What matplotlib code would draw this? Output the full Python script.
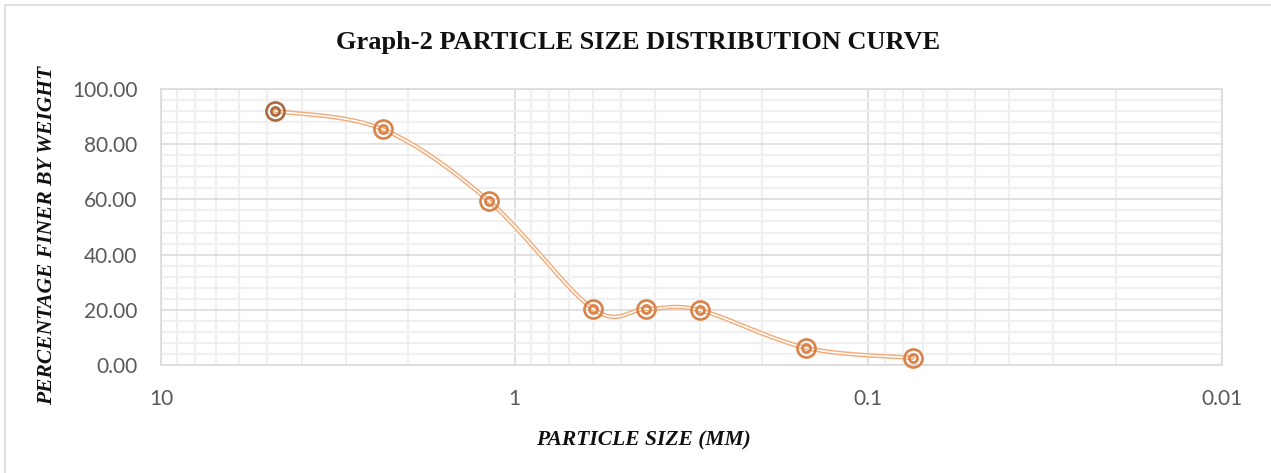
import numpy as np
import matplotlib
matplotlib.use("Agg")
import matplotlib.pyplot as plt
from matplotlib.ticker import FixedLocator, NullFormatter, FixedFormatter
from matplotlib.patches import Rectangle

# ---- data ----
particle_size = [4.75, 2.36, 1.18, 0.6, 0.425, 0.3, 0.15, 0.075]
percent_finer = [92.0, 85.4, 59.3, 20.3, 20.3, 19.9, 6.2, 2.6]
x_tick_values = [10, 1, 0.1, 0.01]
x_tick_labels = ["10", "1", "0.1", "0.01"]
y_tick_values = [0, 20, 40, 60, 80, 100]
title = "Graph-2 PARTICLE SIZE DISTRIBUTION CURVE"
xlabel = "PARTICLE SIZE (MM)"
ylabel = "PERCENTAGE FINER BY WEIGHT"

W, H, DPI = 1271, 473, 100
fig = plt.figure(figsize=(W / DPI, H / DPI), dpi=DPI)
fig.patch.set_facecolor("white")

# outer border of chart area
fig.patches.append(Rectangle((5 / W, -0.1), 1.2, (H - 5) / H + 0.1, transform=fig.transFigure,
                             fill=False, edgecolor="#D9D9D9", linewidth=1.2))

left, right, top, bottom = 161, 1222, 89, 365
ax = fig.add_axes([left / W, 1 - bottom / H, (right - left) / W, (bottom - top) / H])
ax.set_xscale("log")
ax.set_xlim(10, 0.01)
ax.set_ylim(0, 100)

# grid
minor_x = [m * 10.0 ** e for e in (-2, -1, 0) for m in range(2, 10)]
ax.xaxis.set_major_locator(FixedLocator(x_tick_values))
ax.xaxis.set_minor_locator(FixedLocator(minor_x))
ax.xaxis.set_major_formatter(FixedFormatter(x_tick_labels))
ax.xaxis.set_minor_formatter(NullFormatter())
ax.yaxis.set_major_locator(FixedLocator(y_tick_values))
ax.yaxis.set_minor_locator(FixedLocator([v for v in range(0, 101, 4) if v % 20]))
ax.yaxis.set_major_formatter(FixedFormatter([f"{v:.2f}" for v in y_tick_values]))
ax.grid(which="major", color="#D9D9D9", linewidth=1.1)
ax.grid(which="minor", color="#F0F0F0", linewidth=1.6)
ax.set_axisbelow(True)
for s in ax.spines.values():
    s.set_color("#D9D9D9")
    s.set_linewidth(1.1)
ax.tick_params(which="both", length=0)
ax.tick_params(axis="y", pad=17, labelsize=15, labelcolor="#595959")
ax.tick_params(axis="x", pad=17, labelsize=15, labelcolor="#595959")
for lab in ax.get_xticklabels() + ax.get_yticklabels():
    lab.set_family("Lato")

# smooth curve (Bezier in display space, like Excel smoothing)
pts = ax.transData.transform(np.column_stack([particle_size, percent_finer]))
n = len(pts)
curve = []
for i in range(n - 1):
    p0 = pts[i - 1] if i > 0 else pts[i]
    p1 = pts[i]
    p2 = pts[i + 1]
    p3 = pts[i + 2] if i + 2 < n else pts[i + 1]
    c1 = p1 + (p2 - p0) / 6.0
    c2 = p2 - (p3 - p1) / 6.0
    t = np.linspace(0, 1, 40)[:, None]
    seg = ((1 - t) ** 3) * p1 + 3 * ((1 - t) ** 2) * t * c1 + 3 * (1 - t) * t ** 2 * c2 + t ** 3 * p2
    curve.append(seg if i == 0 else seg[1:])
curve = np.vstack(curve)
cdata = ax.transData.inverted().transform(curve)
ax.plot(cdata[:, 0], cdata[:, 1], color="#F3AD7C", linewidth=3.2, solid_capstyle="round", zorder=3)
ax.plot(cdata[:, 0], cdata[:, 1], color="white", linewidth=1.1, solid_capstyle="round", zorder=3)

# double-circle markers
colors = ["#A86A40"] + ["#D9834A"] * (n - 1)
for xv, yv, c in zip(particle_size, percent_finer, colors):
    ax.plot([xv], [yv], marker="o", markersize=13.0, markerfacecolor="none",
            markeredgecolor=c, markeredgewidth=1.9, zorder=4, clip_on=False)
    ax.plot([xv], [yv], marker="o", markersize=5.8, markerfacecolor="none",
            markeredgecolor=c, markeredgewidth=2.0, zorder=4, clip_on=False)

fig.text(638 / W, 1 - 42 / H, title, ha="center", va="center", fontsize=19,
         fontweight="bold", family="Liberation Serif", color="#111111")
fig.text(643 / W, 1 - 440 / H, xlabel, ha="center", va="center", fontsize=15.5,
         fontweight="bold", style="italic", family="Liberation Serif", color="#111111")
fig.text(47 / W, 1 - 235 / H, ylabel, ha="center", va="center", rotation=90, fontsize=15.5,
         fontweight="bold", style="italic", family="Liberation Serif", color="#111111")

fig.savefig("out.png", dpi=DPI)
